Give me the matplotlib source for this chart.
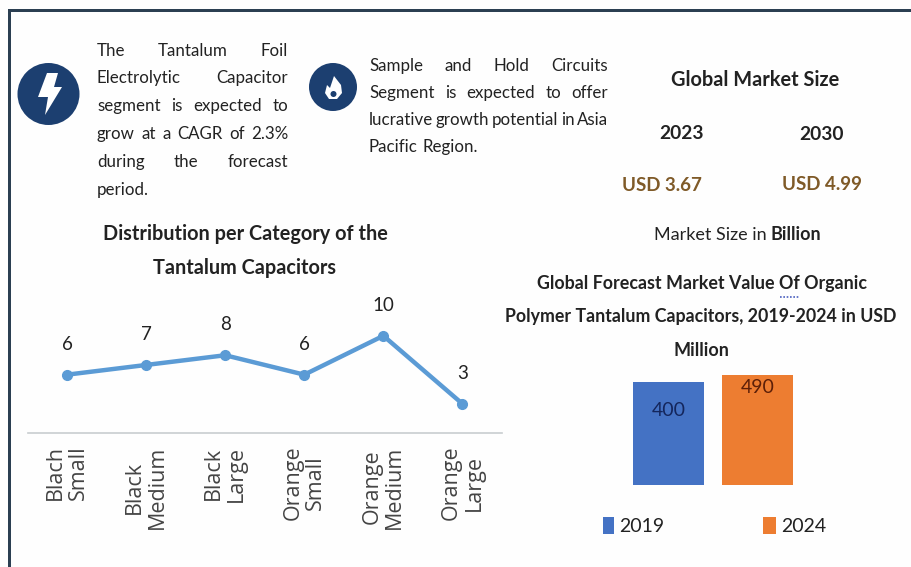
import matplotlib
matplotlib.use("Agg")
import matplotlib.pyplot as plt
from matplotlib.patches import Circle, Polygon, Rectangle

W, H = 912, 567
plt.rcParams['font.family'] = ['Lato', 'DejaVu Sans']

line_categories = ["Blach\nSmall", "Black\nMedium", "Black\nLarge", "Orange\nSmall", "Orange\nMedium", "Orange\nLarge"]
line_values = [6, 7, 8, 6, 10, 3]
bar_years = ["2019", "2024"]
bar_values = [400, 490]
bar_colors = ["#4472c4", "#ed7d31"]
bar_label_colors = ["#14265c", "#5c1f08"]
BAR_BASE = -924

para1 = ["The Tantalum Foil", "Electrolytic Capacitor", "segment is expected to",
         "grow at a CAGR of 2.3%", "during the forecast", "period."]
para2 = ["Sample and Hold Circuits", "Segment is expected to offer",
         "lucrative growth potential in Asia", "Pacific Region."]

INK = "#222222"
fig = plt.figure(figsize=(W/100, H/100), dpi=100, facecolor="#fefefe")
bg = fig.add_axes([0, 0, 1, 1])
bg.set_xlim(0, W); bg.set_ylim(H, 0); bg.axis("off")

# frame
bg.add_patch(Rectangle((8, 9), W, 3, color="#2b3f52", lw=0))
bg.add_patch(Rectangle((8, 9), 3, H, color="#2b3f52", lw=0))

# icons
NAVY = "#1c3f70"
bg.add_patch(Circle((48.5, 94), 31, color=NAVY, lw=0))
bg.add_patch(Polygon([(47, 73), (58, 73), (54, 87), (62, 87), (45, 115), (48, 97), (38, 97)],
                     closed=True, color="white", lw=0))
bg.add_patch(Circle((333, 87), 24, color=NAVY, lw=0))
bg.add_patch(Polygon([(334, 76), (341, 85), (342, 93), (337, 99), (329, 99), (325, 93), (327, 85), (330, 88)],
                     closed=True, color="white", lw=0))
bg.add_patch(Circle((333.5, 94), 3, color=NAVY, lw=0))

def justified(lines, x0, x1, y0, dy, size):
    r = fig.canvas.get_renderer()
    for i, ln in enumerate(lines):
        y = y0 + i*dy
        words = ln.split()
        ts = [bg.text(x0, y, w, fontsize=size, color=INK, va="center", ha="left") for w in words]
        if i == len(lines) - 1:
            space = size * 100/72 * 0.25
            x = x0
            for t in ts:
                t.set_x(x)
                x += t.get_window_extent(r).width + space
            continue
        ws = [t.get_window_extent(r).width for t in ts]
        gap = (x1 - x0 - sum(ws)) / (len(words) - 1)
        x = x0
        for t, w in zip(ts, ws):
            t.set_x(x)
            x += w + gap

justified(para1, 97, 288, 50.5, 27.8, 12.2)
justified(para2, 369, 608, 66, 27, 12.2)

def label(x, y, s, size=14, weight="normal", color=INK):
    bg.text(x, y + 1.5, s, fontsize=size, fontweight=weight, color=color, ha="center", va="center")

label(755, 78, "Global Market Size", 14.4, "bold")
label(682, 132, "2023", 13.8, "bold")
label(822, 133, "2030", 13.8, "bold")
label(662, 184, "USD 3.67", 13.5, "bold", "#7f5a28")
label(822, 183, "USD 4.99", 13.5, "bold", "#7f5a28")
bg.text(771, 234.5, "Market Size in ", fontsize=13, color=INK, ha="right", va="center")
bg.text(771, 234.5, "Billion", fontsize=13, fontweight="bold", color=INK, ha="left", va="center")

label(245, 233, "Distribution per Category of the", 14.3, "bold")
label(245, 267, "Tantalum Capacitors", 14.3, "bold")
label(702, 282, "Global Forecast Market Value Of Organic", 12.9, "bold")
label(701, 315, "Polymer Tantalum Capacitors, 2019-2024 in USD", 12.8, "bold")
label(701, 349, "Million", 13, "bold")
bg.plot([780, 800], [297, 297], color="#4a5fbf", lw=1.2, ls=(0, (1, 1)))

def ax_px(l, t, r, b):
    a = fig.add_axes([l/W, 1-b/H, (r-l)/W, (b-t)/H])
    a.patch.set_alpha(0)
    return a

# line chart: value 0 at y=433 px, 9.72 px per unit; categories 79 px apart
la = ax_px(27.5, 290, 502, 433)
la.set_xlim(-0.5, 5.5)
la.set_ylim(0, 143/9.72)
xs = list(range(len(line_values)))
la.plot(xs, line_values, color="#5b9bd5", lw=3.2, marker="o", ms=7, solid_capstyle="round")
for x, v in zip(xs, line_values):
    la.annotate(str(v), (x, v), xytext=(0, 22), textcoords="offset points", ha="center", va="center",
                fontsize=13.5, color=INK)
for s in ("top", "right", "left"):
    la.spines[s].set_visible(False)
la.spines["bottom"].set_color("#c8cdd0")
la.spines["bottom"].set_linewidth(1.2)
la.set_yticks([])
la.set_xticks(xs)
la.set_xticklabels(line_categories, rotation=90, fontsize=15.5, color="#444444",
                   linespacing=1.12, ha="center", va="top", multialignment="center")
for t in la.get_xticklabels():
    t.set_fontfamily(['Open Sans', 'DejaVu Sans'])
la.tick_params(axis="x", length=0, pad=9)

# bar chart: truncated scale, 7 px per 90 units
ba = ax_px(620, 360, 810, 485)
ppu = 7/90
ba.set_ylim(BAR_BASE, BAR_BASE + 125/ppu)
ba.set_xlim((620-669)/89, (810-669)/89)
pos = [0, 1]
ba.bar(pos, [v - BAR_BASE for v in bar_values], bottom=BAR_BASE, width=71/89, color=bar_colors, lw=0)
ba.axis("off")
for p, v, c, off in zip(pos, bar_values, bar_label_colors, (-28, -12)):
    ba.annotate(str(v), (p, v), xytext=(0, off * 0.72), textcoords="offset points", ha="center", va="center",
                fontsize=14, color=c)

# legend
for x, w, c, s in zip((603, 763), (11, 13), bar_colors, bar_years):
    bg.add_patch(Rectangle((x, 517), w, 17, color=c, lw=0))
    bg.text(x + w + 5, 526, s, fontsize=14, color=INK, ha="left", va="center")

fig.savefig("out.png", dpi=100, facecolor=fig.get_facecolor())
